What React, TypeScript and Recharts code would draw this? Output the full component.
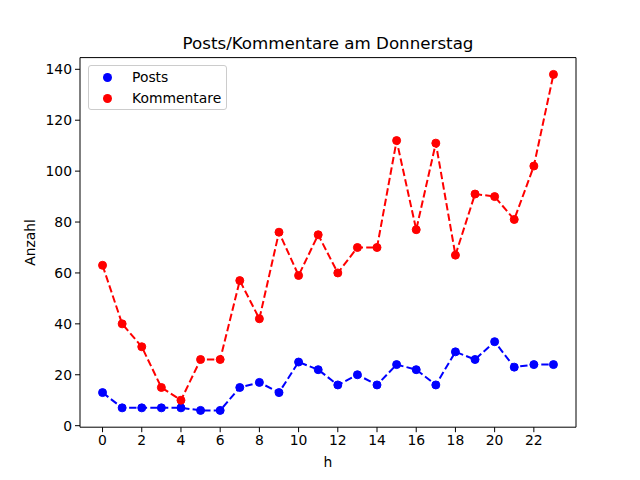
import React from 'react';
import { LineChart, Line, XAxis, YAxis, ReferenceLine } from 'recharts';

const hours = [0, 1, 2, 3, 4, 5, 6, 7, 8, 9, 10, 11, 12, 13, 14, 15, 16, 17, 18, 19, 20, 21, 22, 23];
const posts = [13, 7, 7, 7, 7, 6, 6, 15, 17, 13, 25, 22, 16, 20, 16, 24, 22, 16, 29, 26, 33, 23, 24, 24];
const kommentare = [63, 40, 31, 15, 10, 26, 26, 57, 42, 76, 59, 75, 60, 70, 70, 112, 77, 111, 67, 91, 90, 81, 102, 138];
const xTicks = [0, 2, 4, 6, 8, 10, 12, 14, 16, 18, 20, 22];
const yTicks = [0, 20, 40, 60, 80, 100, 120, 140];

const seriesNames = ['Posts', 'Kommentare'];
const seriesColors = ['#0000ff', '#ff0000'];

const X_DOMAIN: [number, number] = [-1.15, 24.15];
const Y_DOMAIN: [number, number] = [-0.6, 144.6];

const FONT = '"DejaVu Sans", sans-serif';

const data = hours.map((h, i) => ({ h, posts: posts[i], kommentare: kommentare[i] }));

const tickStyle = { fill: '#000', fontSize: 13.9, fontFamily: FONT };

export default function App() {
  return (
    <div style={{ position: 'relative', width: 640, height: 480, background: '#fff', fontFamily: FONT }}>
      <style>{`body{margin:0}`}</style>
      <div
        style={{
          position: 'absolute',
          left: 80,
          width: 496,
          top: 33,
          textAlign: 'center',
          fontSize: 16.7,
          lineHeight: '20px',
          color: '#000',
        }}
      >
        Posts/Kommentare am Donnerstag
      </div>
      <LineChart width={640} height={480} data={data} margin={{ top: 57.6, right: 64, bottom: 0, left: 0 }}>
        <XAxis
          dataKey="h"
          type="number"
          domain={X_DOMAIN}
          ticks={xTicks}
          allowDataOverflow
          height={52.8}
          stroke="#000"
          tick={tickStyle}
          tickSize={5}
          tickMargin={3}
          label={(props: any) => {
            const vb = props.viewBox;
            return (
              <text x={vb.x + vb.width / 2} y={vb.y + 40} textAnchor="middle" fontSize={13.9} fontFamily={FONT} fill="#000">
                h
              </text>
            );
          }}
        />
        <YAxis
          type="number"
          domain={Y_DOMAIN}
          ticks={yTicks}
          allowDataOverflow
          width={80}
          stroke="#000"
          tick={tickStyle}
          tickSize={5}
          tickMargin={3}
          label={(props: any) => {
            const vb = props.viewBox;
            const cx = 35;
            const cy = vb.y + vb.height / 2;
            return (
              <text
                x={cx}
                y={cy}
                transform={`rotate(-90 ${cx} ${cy})`}
                textAnchor="middle"
                fontSize={13.9}
                fontFamily={FONT}
                fill="#000"
              >
                Anzahl
              </text>
            );
          }}
        />
        <ReferenceLine x={X_DOMAIN[1]} stroke="#000" strokeWidth={1} />
        <ReferenceLine y={Y_DOMAIN[1]} stroke="#000" strokeWidth={1} />
        <Line
          dataKey="posts"
          name={seriesNames[0]}
          stroke={seriesColors[0]}
          strokeWidth={2}
          strokeDasharray="7.4 3.2"
          dot={{ r: 4, fill: seriesColors[0], stroke: seriesColors[0], strokeWidth: 1, strokeDasharray: '' }}
          isAnimationActive={false}
        />
        <Line
          dataKey="kommentare"
          name={seriesNames[1]}
          stroke={seriesColors[1]}
          strokeWidth={2}
          strokeDasharray="7.4 3.2"
          dot={{ r: 4, fill: seriesColors[1], stroke: seriesColors[1], strokeWidth: 1, strokeDasharray: '' }}
          isAnimationActive={false}
        />
      </LineChart>
      <div
        style={{
          position: 'absolute',
          left: 88,
          top: 65,
          width: 137,
          height: 43,
          border: '1px solid #cccccc',
          borderRadius: 3,
          background: 'rgba(255,255,255,0.8)',
          fontSize: 13.9,
          color: '#000',
        }}
      >
        {seriesNames.map((n, i) => (
          <div key={n} style={{ position: 'absolute', top: 3 + i * 21, left: 0, height: 16, display: 'flex', alignItems: 'center' }}>
            <span
              style={{
                position: 'absolute',
                left: 14,
                width: 9,
                height: 9,
                borderRadius: '50%',
                background: seriesColors[i],
              }}
            />
            <span style={{ position: 'absolute', left: 43, whiteSpace: 'nowrap', lineHeight: '16px' }}>{n}</span>
          </div>
        ))}
      </div>
    </div>
  );
}
